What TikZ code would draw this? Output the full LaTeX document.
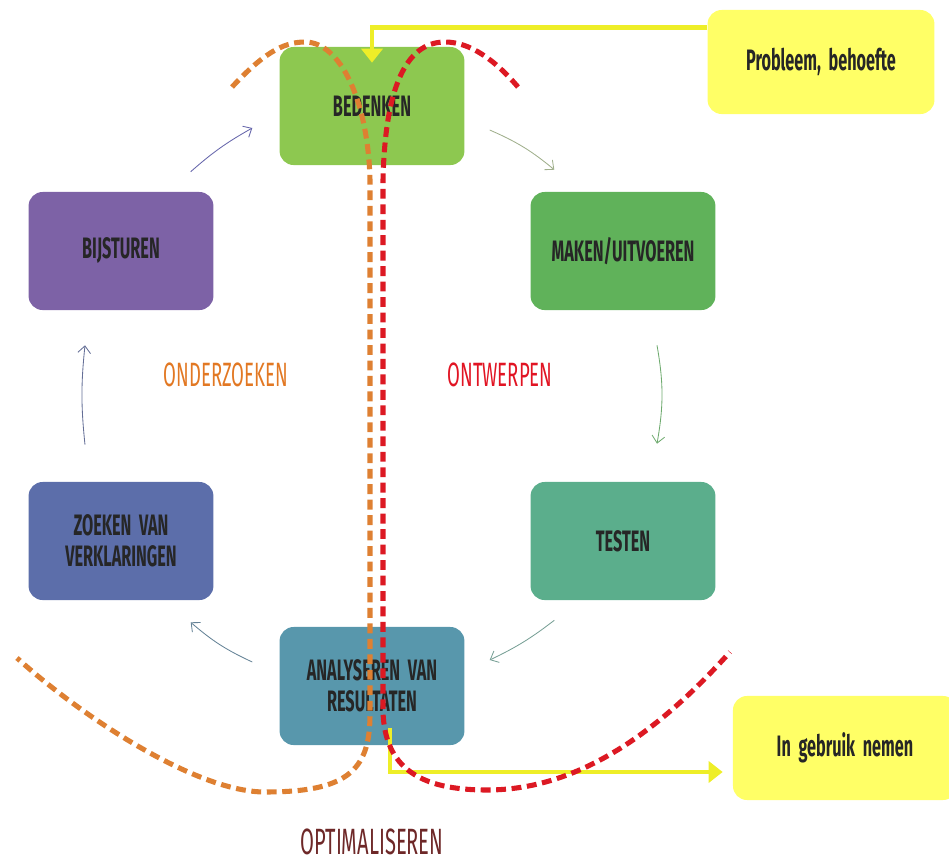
\documentclass[tikz,border=0pt]{standalone}
\usepackage{fontspec}
\newfontfamily\agency[FakeStretch=0.55]{Fira Sans}
\usetikzlibrary{arrows.meta,calc,positioning}

\definecolor{cbedenken}{RGB}{141,200,80}
\definecolor{cmaken}{RGB}{96,178,90}
\definecolor{ctesten}{RGB}{91,174,140}
\definecolor{canalyse}{RGB}{88,151,172}
\definecolor{czoeken}{RGB}{92,110,170}
\definecolor{cbijsturen}{RGB}{125,98,166}
\definecolor{geelvak}{RGB}{255,255,102}
\definecolor{geellijn}{RGB}{238,238,40}
\definecolor{oranjestreep}{RGB}{222,128,50}
\definecolor{roodstreep}{RGB}{220,25,35}
\definecolor{oranjetekst}{RGB}{226,120,35}
\definecolor{roodtekst}{RGB}{225,20,35}
\definecolor{bruintekst}{RGB}{110,40,40}

\begin{document}
\begin{tikzpicture}[x=0.025cm,y=-0.025cm,
    stap/.style={rounded corners=10pt,minimum width=4.62cm,minimum height=2.95cm,
        align=center,text=black!85,font=\agency\bfseries\fontsize{21}{22}\selectfont},
    geelblok/.style={stap,fill=geelvak,minimum height=2.6cm},
    pijl/.style={line width=0.6pt,-{Straight Barb[length=5pt,width=9pt]}},
    geelpijl/.style={draw=geellijn,line width=3.5pt,-{Triangle[width=15pt,length=10pt]}},
    streep/.style={line width=3.6pt,dash pattern=on 7pt off 4pt},
    fase/.style={inner sep=0pt,font=\agency\fontsize{24}{26}\selectfont}]
    \useasboundingbox (0,0) rectangle (949,862);

    \node[stap,fill=cbedenken] (bedenken) at (372,106) {BEDENKEN};
    \node[stap,fill=cmaken] (maken) at (623,251) {MAKEN/UITVOEREN};
    \node[stap,fill=ctesten] (testen) at (623,541) {TESTEN};
    \node[stap,fill=canalyse] (analyseren) at (372,686) {ANALYSEREN\ \ VAN\\RESULTATEN};
    \node[stap,fill=czoeken] (zoeken) at (121,541) {ZOEKEN\ \ VAN\\VERKLARINGEN};
    \node[stap,fill=cbijsturen] (bijsturen) at (121,251) {BIJSTUREN};
    \node[geelblok,minimum width=5.67cm] (probleem) at (821,62) {Probleem,\ \ behoefte};
    \node[geelblok,minimum width=5.6cm] (ingebruik) at (845,748) {In\ \ gebruik\ \ nemen};

    \node[fase,text=oranjetekst] (onderzoeken) at (226,375) {ONDERZOEKEN};
    \node[fase,text=roodtekst] (ontwerpen) at (500,375) {ONTWERPEN};
    \node[fase,text=bruintekst,anchor=base,font=\agency\fontsize{26}{28}\selectfont] (optimaliseren) at (372,854) {OPTIMALISEREN};

    \draw[pijl,draw={rgb,255:red,100;green,100;blue,170}] ($(bijsturen.north east)+(-23,-20)$) to[bend left=6] ($(bedenken.west)+(-27,22)$);
    \draw[pijl,draw={rgb,255:red,160;green,175;blue,140}] ($(bedenken.east)+(25,24)$) to[bend left=8] ($(maken.north west)+(24,-22)$);
    \draw[pijl,draw={rgb,255:red,110;green,170;blue,110}] ($(maken.south)+(34,35)$) to[bend left=10] ($(testen.north)+(34,-38)$);
    \draw[pijl,draw={rgb,255:red,120;green,160;blue,150}] ($(testen.south west)+(24,20)$) to[bend left=6] ($(analyseren.east)+(25,-26)$);
    \draw[pijl,draw={rgb,255:red,100;green,130;blue,150}] ($(analyseren.west)+(-27,-24)$) to[bend left=8] ($(zoeken.south east)+(-23,22)$);
    \draw[pijl,draw={rgb,255:red,100;green,110;blue,150}] ($(zoeken.north)+(-36,-37)$) to[bend left=6] ($(bijsturen.south)+(-36,35)$);

    \draw[geelpijl] ($(probleem.north west)+(0,18)$) -| ($(bedenken.north)+(0,16)$);
    \draw[geelpijl] ($(analyseren.south)+(18,-17)$) |- ($(ingebruik.west)+(-10,24)$);

    \draw[streep,oranjestreep] (232,87) .. controls (262,55) and (282,42) .. (305,42)
        .. controls (340,42) and (368,100) .. (370,180) -- (370,715)
        .. controls (370,772) and (345,792) .. (265,792)
        .. controls (195,792) and (80,715) .. (17,658);
    \draw[streep,roodstreep] (518,87) .. controls (495,60) and (470,42) .. (445,42)
        .. controls (405,42) and (385,90) .. (383,180) -- (383,712)
        .. controls (385,768) and (420,790) .. (487,790)
        .. controls (580,790) and (660,730) .. (730,652);
\end{tikzpicture}
\end{document}
